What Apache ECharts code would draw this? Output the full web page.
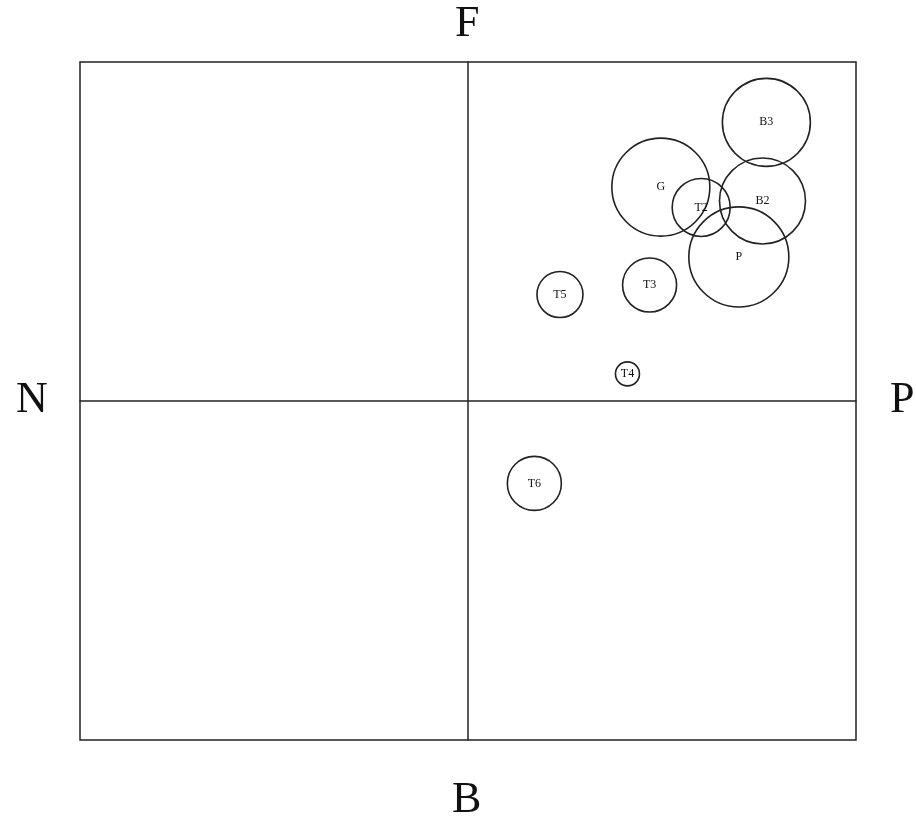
<!DOCTYPE html>
<html>
<head>
<meta charset="utf-8">
<script src="https://cdn.jsdelivr.net/npm/echarts@6/dist/echarts.min.js"></script>
<style>
  html, body { margin: 0; padding: 0; background: #ffffff; }
  #chart { width: 916px; height: 816px; }
</style>
</head>
<body>
<div id="chart"></div>
<script>
// bubble names, positions (axis units, -10..10) and sizes
const names = ["B3", "G", "T2", "B2", "P", "T3", "T5", "T4", "T6"];
const xVals = [7.69, 4.97, 6.01, 7.59, 6.98, 4.68, 2.37, 4.11, 1.71];
const yVals = [8.22, 6.31, 5.71, 5.90, 4.25, 3.42, 3.14, 0.80, -2.43];
const sizes = [4.4, 4.9, 2.9, 4.3, 5.0, 2.7, 2.3, 1.2, 2.7];

// quadrant labels
const axisLabels = { top: "F", bottom: "B", left: "N", right: "P" };

const chart = echarts.init(document.getElementById("chart"));

const points = names.map((n, i) => [xVals[i], yVals[i], sizes[i], n]);
const serif = "Liberation Serif";
const lineColor = "#222";

const option = {
  backgroundColor: "#ffffff",
  animation: false,
  grid: {
    left: 80,
    top: 62,
    width: 776,
    height: 678,
    show: true,
    borderColor: lineColor,
    borderWidth: 1.5,
    backgroundColor: "transparent"
  },
  xAxis: {
    type: "value",
    min: -10,
    max: 10,
    axisLine: { onZero: true, lineStyle: { color: lineColor, width: 1.5 } },
    axisTick: { show: false },
    axisLabel: { show: false },
    splitLine: { show: false }
  },
  yAxis: {
    type: "value",
    min: -10,
    max: 10,
    axisLine: { onZero: true, lineStyle: { color: lineColor, width: 1.5 } },
    axisTick: { show: false },
    axisLabel: { show: false },
    splitLine: { show: false }
  },
  graphic: [
    { type: "text", left: 455, top: 2, style: { text: axisLabels.top, font: "44px " + serif, fill: "#111" } },
    { type: "text", left: 452, top: 778, style: { text: axisLabels.bottom, font: "44px " + serif, fill: "#111" } },
    { type: "text", left: 16, top: 378, style: { text: axisLabels.left, font: "44px " + serif, fill: "#111" } },
    { type: "text", left: 890, top: 378, style: { text: axisLabels.right, font: "44px " + serif, fill: "#111" } }
  ],
  series: [
    {
      type: "scatter",
      data: points,
      symbol: "circle",
      symbolSize: d => d[2] * 20,
      itemStyle: {
        color: "transparent",
        borderColor: lineColor,
        borderWidth: 1.6,
        opacity: 1
      },
      label: {
        show: true,
        position: "inside",
        formatter: p => p.data[3],
        fontFamily: serif,
        fontSize: 12,
        color: "#111"
      },
      emphasis: { disabled: true }
    }
  ]
};

chart.setOption(option);
</script>
</body>
</html>
